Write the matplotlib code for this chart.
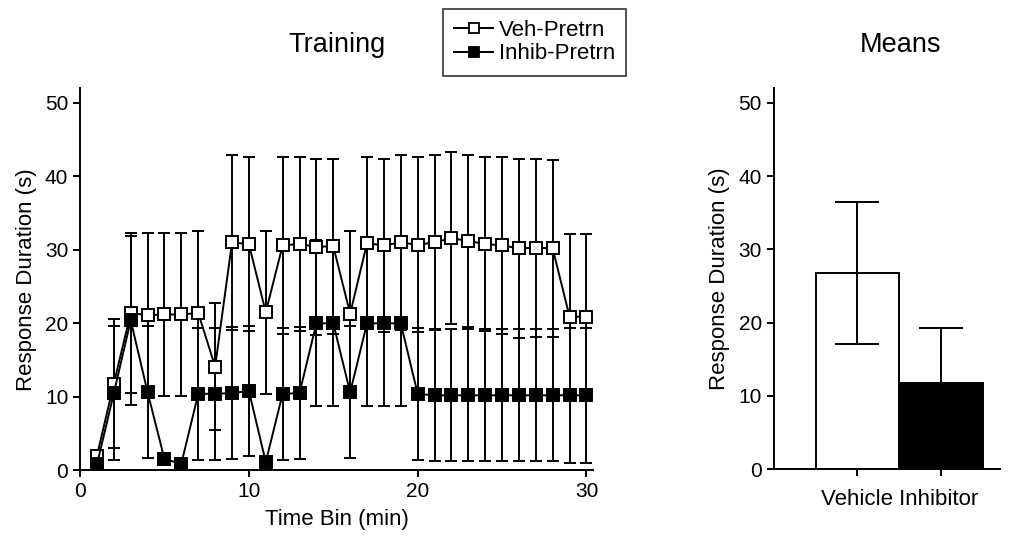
import matplotlib
matplotlib.use("Agg")
import matplotlib.pyplot as plt
from matplotlib.lines import Line2D

plt.rcParams['font.family'] = ['Liberation Sans', 'DejaVu Sans']

time_bins = list(range(1, 31))
veh_mean = [2.0, 11.8, 21.4, 21.1, 21.2, 21.2, 21.4, 14.1, 31.0, 30.8,
            21.5, 30.6, 30.8, 30.4, 30.5, 21.3, 30.9, 30.6, 31.0, 30.7,
            31.0, 31.6, 31.2, 30.8, 30.6, 30.2, 30.3, 30.2, 20.9, 20.9]
veh_err = [0.8, 8.8, 10.9, 11.2, 11.1, 11.1, 11.2, 8.6, 11.9, 11.8,
           11.1, 12.0, 11.8, 12.0, 11.9, 11.3, 11.7, 11.8, 11.9, 11.9,
           11.9, 11.7, 11.7, 11.8, 12.0, 12.2, 12.1, 12.0, 11.2, 11.2]
inh_mean = [0.8, 10.5, 20.4, 10.6, 1.5, 0.9, 10.4, 10.4, 10.5, 10.8,
            1.1, 10.4, 10.5, 20.0, 20.0, 10.6, 20.0, 20.0, 20.0, 10.4,
            10.2, 10.2, 10.2, 10.2, 10.2, 10.2, 10.2, 10.2, 10.2, 10.2]
inh_err = [0.3, 9.1, 11.5, 9.0, 0.5, 0.3, 9.0, 9.0, 9.0, 8.9,
           0.3, 9.0, 9.0, 11.3, 11.3, 9.0, 11.3, 11.3, 11.3, 9.0,
           9.0, 9.0, 9.0, 9.0, 9.0, 9.0, 9.0, 9.0, 9.2, 9.2]

groups = ['Vehicle', 'Inhibitor']
group_mean = [26.8, 11.7]
group_err = [9.7, 7.5]

fig = plt.figure(figsize=(10.14, 5.38), dpi=100)
ax1 = fig.add_axes([0.079, 0.126, 0.506, 0.71])
ax2 = fig.add_axes([0.763, 0.128, 0.223, 0.708])

lw = 1.4
fs = 15
lfs = 16
tfs = 19.5
# error bars first
ax1.errorbar(time_bins, veh_mean, yerr=veh_err, fmt='none', ecolor='black',
             elinewidth=lw, capsize=4.3, capthick=lw, zorder=2)
ax1.errorbar(time_bins, inh_mean, yerr=inh_err, fmt='none', ecolor='black',
             elinewidth=lw, capsize=4.3, capthick=lw, zorder=2)
ax1.plot(time_bins, veh_mean, '-s', color='black', lw=lw, ms=9,
         mfc='white', mec='black', mew=1.4, zorder=3)
ax1.plot(time_bins, inh_mean, '-s', color='black', lw=lw, ms=9,
         mfc='black', mec='black', mew=1.4, zorder=4)

ax1.set_xlim(0, 30.4)
ax1.set_ylim(0, 52)
ax1.set_xticks([0, 10, 20, 30])
ax1.set_yticks([0, 10, 20, 30, 40, 50])
ax1.set_xlabel('Time Bin (min)', fontsize=lfs, labelpad=6)
ax1.set_ylabel('Response Duration (s)', fontsize=lfs, labelpad=6)
ax1.set_title('Training', fontsize=tfs, pad=26)

# bars
xpos = [0, 1]
ax2.bar(xpos, group_mean, width=1.0, color=['white', 'black'],
        edgecolor='black', linewidth=lw, zorder=2)
ax2.errorbar(xpos, group_mean, yerr=group_err, fmt='none', ecolor='black',
             elinewidth=lw, capsize=15.5, capthick=lw, zorder=3)
ax2.set_xlim(-1.0, 1.7)
ax2.set_ylim(0, 52)
ax2.set_xticks(xpos)
ax2.set_xticklabels([])
ax2.set_xticks([0.5], minor=True)
ax2.set_xticklabels([' '.join(groups)], minor=True)
ax2.tick_params(axis='x', which='minor', length=0, pad=14, labelsize=lfs)
ax2.set_yticks([0, 10, 20, 30, 40, 50])
ax2.set_ylabel('Response Duration (s)', fontsize=lfs, labelpad=6)
ax2.set_title('Means', fontsize=tfs, pad=26, x=0.56)

for ax in (ax1, ax2):
    for s in ('top', 'right'):
        ax.spines[s].set_visible(False)
    for s in ('left', 'bottom'):
        ax.spines[s].set_linewidth(lw)
    ax.tick_params(which='major', direction='out', length=5, width=lw, labelsize=fs)

handles = [Line2D([], [], color='black', marker='s', ms=6.5, mfc='white', lw=lw, mew=1.3),
           Line2D([], [], color='black', marker='s', ms=6.5, mfc='black', lw=lw, mew=1.3)]
leg = fig.legend(handles, ['Veh-Pretrn', 'Inhib-Pretrn'], loc='upper left',
                 bbox_to_anchor=(0.437, 0.983), borderaxespad=0, fontsize=lfs,
                 frameon=True, fancybox=False, edgecolor='black',
                 handlelength=1.75, borderpad=0.5, labelspacing=0.1,
                 handletextpad=0.25)
leg.get_frame().set_linewidth(1.2)

fig.savefig('out.png', dpi=100)
